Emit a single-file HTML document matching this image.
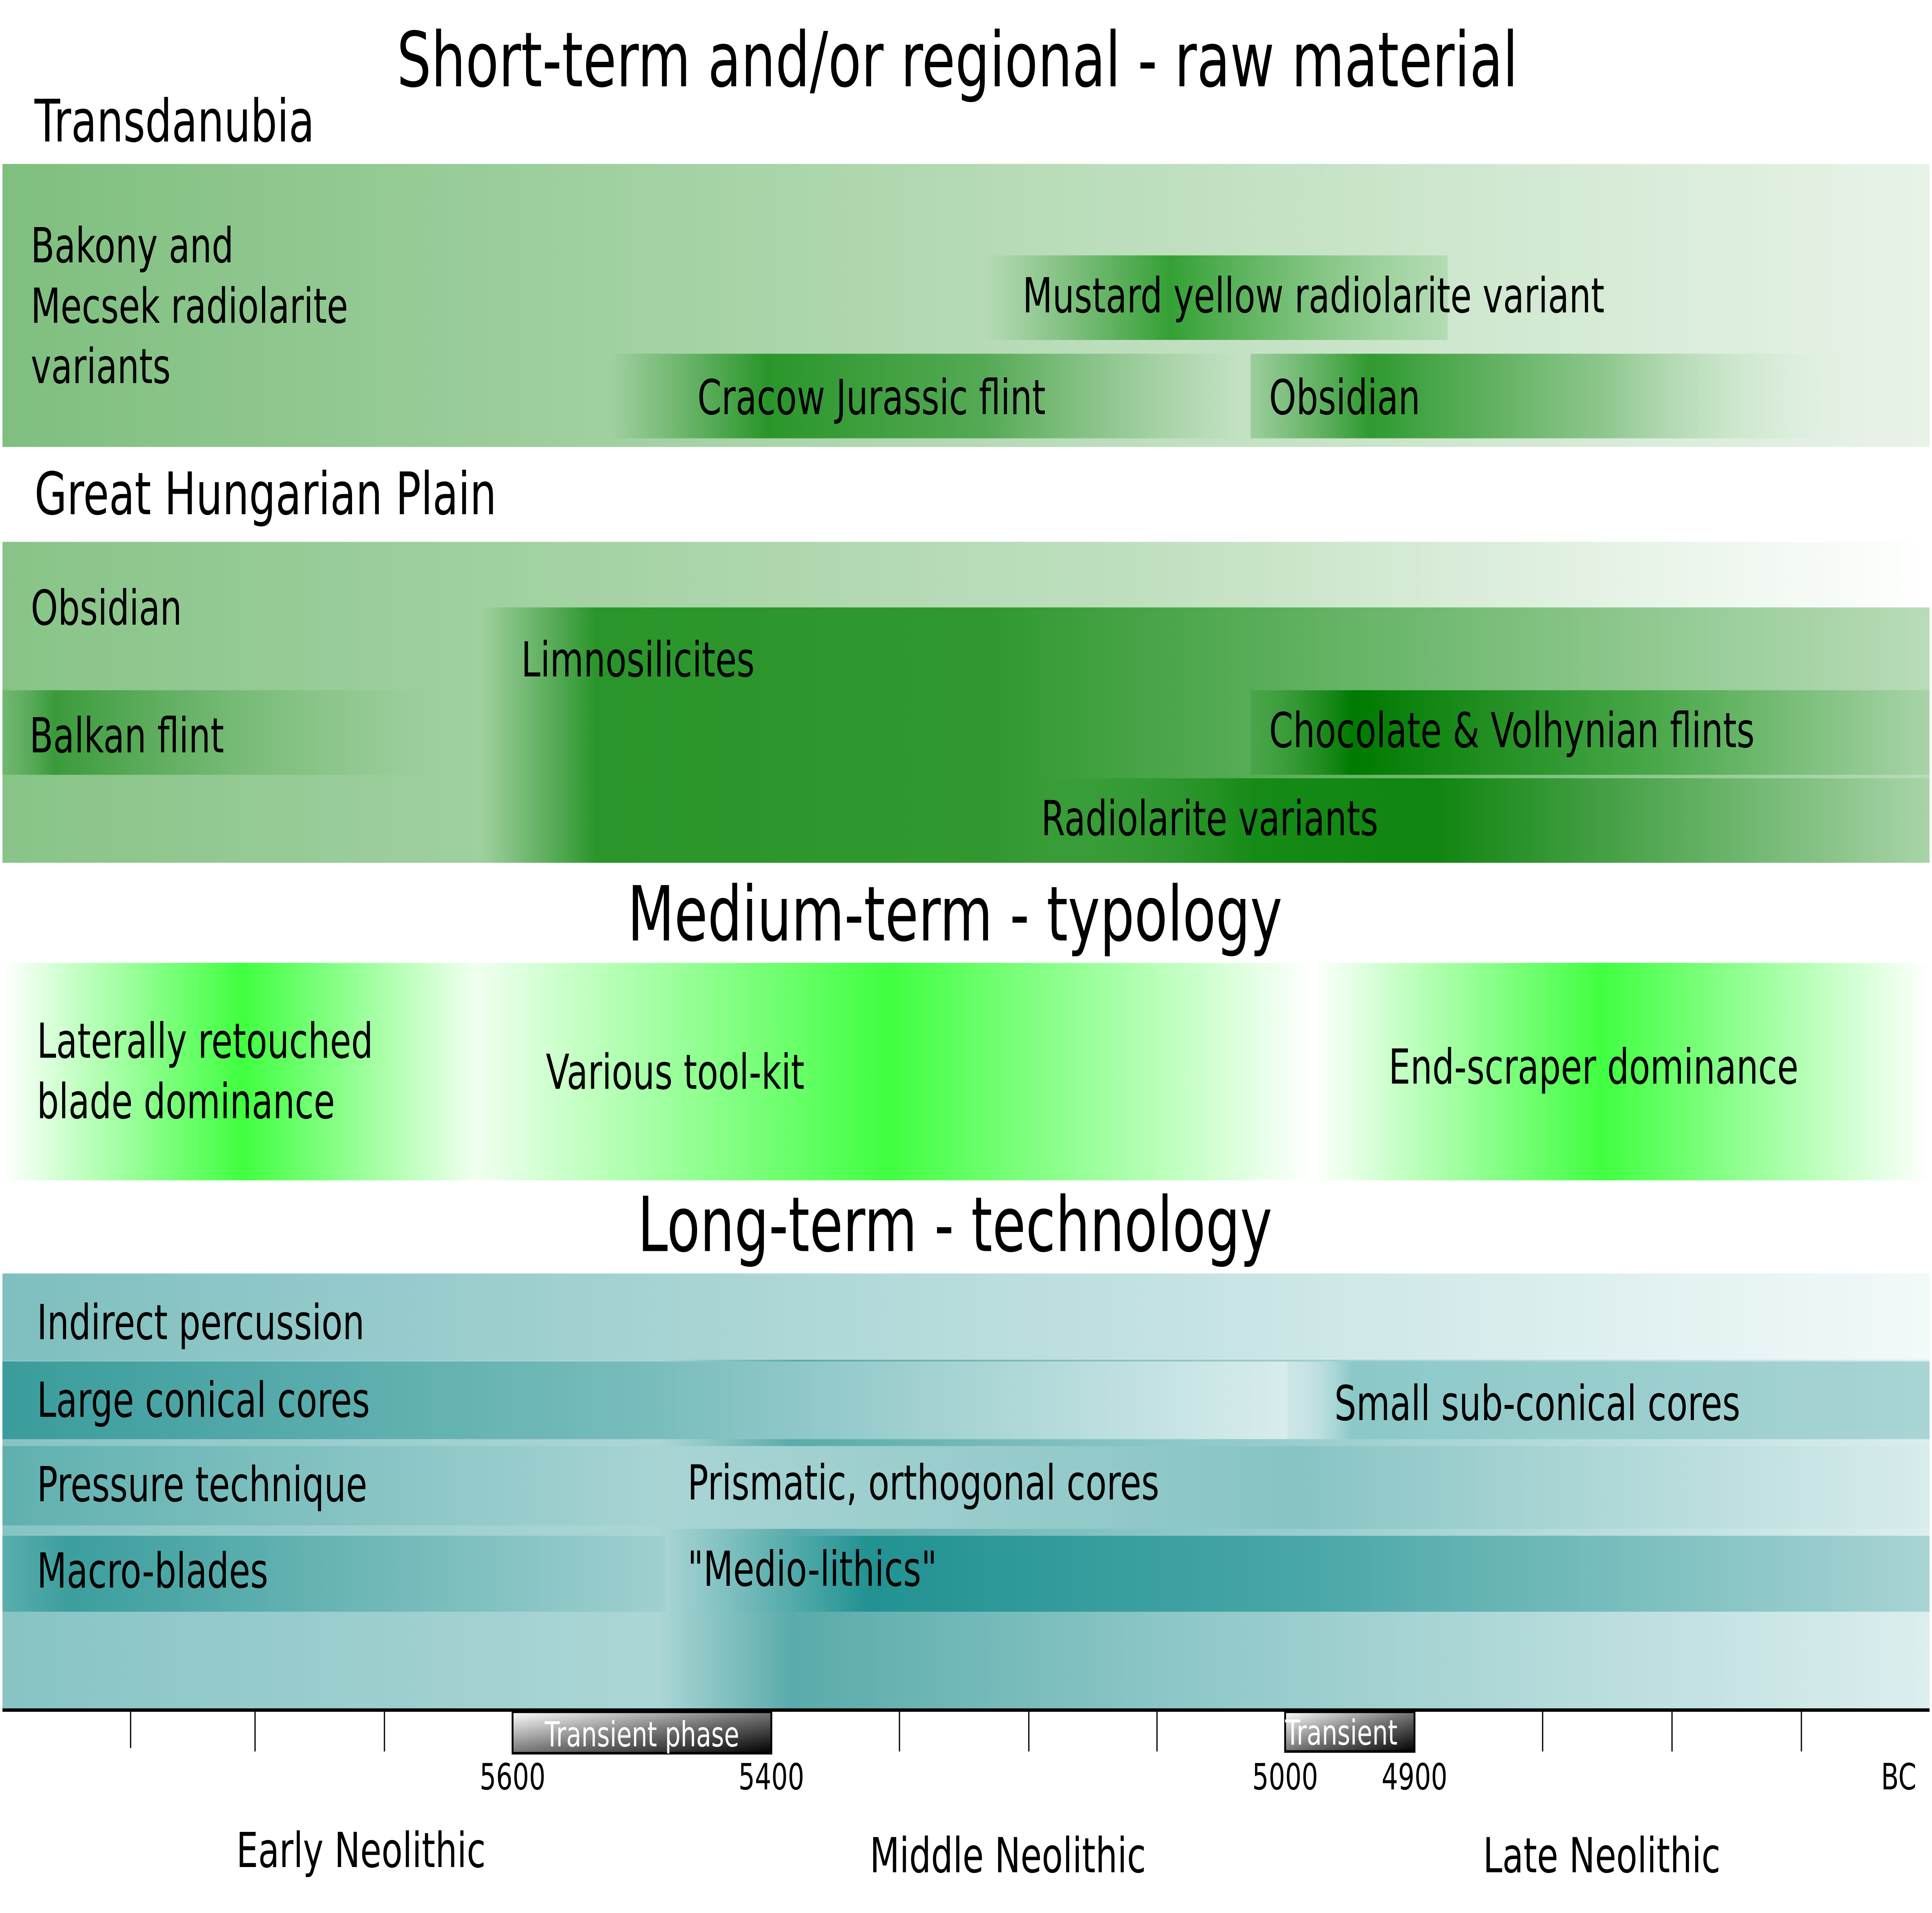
<!DOCTYPE html>
<html><head><meta charset="utf-8"><style>html,body{margin:0;padding:0;background:#fff;overflow:hidden}svg{display:block;position:absolute;left:0;top:0;width:100vw;height:100vh}text{font-family:"DejaVu Sans","Liberation Sans",sans-serif;fill:#000}</style></head>
<body>
<svg viewBox="0 0 1568 1108.6" preserveAspectRatio="none" xmlns="http://www.w3.org/2000/svg">
<defs>
<linearGradient id="b1" x1="0" x2="1"><stop offset="0" stop-color="#7fbf7f"/><stop offset="0.5" stop-color="#b4dab4"/><stop offset="1" stop-color="#e8f3e8"/></linearGradient>
<linearGradient id="must" x1="0" x2="1"><stop offset="0" stop-color="#3a9a3a" stop-opacity="0"/><stop offset="0.4" stop-color="#34a034"/><stop offset="1" stop-color="#8ccb8c" stop-opacity="0.4"/></linearGradient>
<linearGradient id="crac" x1="0" x2="1"><stop offset="0" stop-color="#2a922a" stop-opacity="0"/><stop offset="0.25" stop-color="#2a962a"/><stop offset="0.6" stop-color="#55aa55"/><stop offset="1" stop-color="#7ab87a" stop-opacity="0"/></linearGradient>
<linearGradient id="obs" x1="0" x2="1"><stop offset="0" stop-color="#40a040" stop-opacity="0.3"/><stop offset="0.2" stop-color="#2f9a2f"/><stop offset="0.6" stop-color="#90c890"/><stop offset="1" stop-color="#e0f0e0" stop-opacity="0"/></linearGradient>
<linearGradient id="b2" x1="0" x2="1"><stop offset="0" stop-color="#88c488"/><stop offset="0.6" stop-color="#c0e0c0"/><stop offset="1" stop-color="#ffffff"/></linearGradient>
<linearGradient id="limno" x1="0" x2="1"><stop offset="0" stop-color="#2a952a" stop-opacity="0"/><stop offset="0.08" stop-color="#2a952a"/><stop offset="0.35" stop-color="#30982f"/><stop offset="0.6" stop-color="#66b466"/><stop offset="1" stop-color="#b8dcb8"/></linearGradient>
<linearGradient id="balk" x1="0" x2="1"><stop offset="0" stop-color="#5aab5a" stop-opacity="0.5"/><stop offset="0.12" stop-color="#3a9a3a"/><stop offset="1" stop-color="#7fbf7f" stop-opacity="0"/></linearGradient>
<linearGradient id="choc" x1="0" x2="1"><stop offset="0" stop-color="#2a952a" stop-opacity="0.3"/><stop offset="0.15" stop-color="#007a00"/><stop offset="0.6" stop-color="#4aa84a"/><stop offset="1" stop-color="#a8d4a8"/></linearGradient>
<linearGradient id="radi" x1="0" x2="1"><stop offset="0" stop-color="#2a952a" stop-opacity="0"/><stop offset="0.25" stop-color="#168a16"/><stop offset="0.45" stop-color="#108510"/><stop offset="1" stop-color="#a8d4a8"/></linearGradient>
<linearGradient id="b3" gradientUnits="userSpaceOnUse" x1="2" x2="1566"><stop offset="0" stop-color="#fff"/><stop offset="0.125" stop-color="#40ff40"/><stop offset="0.245" stop-color="#f0fff0"/><stop offset="0.46" stop-color="#40ff40"/><stop offset="0.68" stop-color="#ffffff"/><stop offset="0.83" stop-color="#40ff40"/><stop offset="1" stop-color="#fff"/></linearGradient>
<linearGradient id="b4" gradientUnits="userSpaceOnUse" x1="2" x2="1566"><stop offset="0" stop-color="#88c4c4"/><stop offset="0.34" stop-color="#acd6d6"/><stop offset="0.41" stop-color="#5aabab"/><stop offset="0.6" stop-color="#8cc6c6"/><stop offset="1" stop-color="#dceeee"/></linearGradient>
<linearGradient id="ind" x1="0" x2="1"><stop offset="0" stop-color="#7fbfbf"/><stop offset="0.5" stop-color="#b8dcdc"/><stop offset="1" stop-color="#f2f9f9"/></linearGradient>
<linearGradient id="lcc" x1="0" x2="1"><stop offset="0" stop-color="#3a9c9c"/><stop offset="0.5" stop-color="#78bcbc"/><stop offset="1" stop-color="#d8ecec"/></linearGradient>
<linearGradient id="scc" x1="0" x2="1"><stop offset="0" stop-color="#fff" stop-opacity="0.5"/><stop offset="0.1" stop-color="#8cc8c8"/><stop offset="1" stop-color="#a8d4d4"/></linearGradient>
<linearGradient id="pt" x1="0" x2="1"><stop offset="0" stop-color="#60b0b0"/><stop offset="1" stop-color="#a8d4d4"/></linearGradient>
<linearGradient id="pri" x1="0" x2="1"><stop offset="0" stop-color="#a8d4d4"/><stop offset="0.5" stop-color="#88c4c4"/><stop offset="1" stop-color="#d8ecec"/></linearGradient>
<linearGradient id="mb" x1="0" x2="1"><stop offset="0" stop-color="#5aaeae"/><stop offset="0.1" stop-color="#3c9e9e"/><stop offset="1" stop-color="#a0d0d0"/></linearGradient>
<linearGradient id="med" x1="0" x2="1"><stop offset="0" stop-color="#a8d4d4"/><stop offset="0.16" stop-color="#229292"/><stop offset="0.5" stop-color="#48a6a6"/><stop offset="1" stop-color="#a8d4d4"/></linearGradient>
<linearGradient id="tr" x1="0" y1="0" x2="1" y2="1"><stop offset="0" stop-color="#fff"/><stop offset="0.5" stop-color="#777"/><stop offset="1" stop-color="#000"/></linearGradient>
</defs>
<rect width="1568" height="1108.6" fill="#fff"/>
<text x="777" y="50" font-size="44" text-anchor="middle">Short-term and/or regional - raw material</text>
<text x="28" y="82" font-size="34">Transdanubia</text>
<rect x="2" y="95" width="1564" height="164" fill="url(#b1)"/>
<rect x="800" y="148" width="375" height="49" fill="url(#must)"/>
<rect x="495" y="205" width="510" height="49" fill="url(#crac)"/>
<rect x="1015" y="205" width="485" height="49" fill="url(#obs)"/>
<g font-size="28">
<text x="25" y="152">Bakony and</text><text x="25" y="187">Mecsek radiolarite</text><text x="25" y="222">variants</text>
<text x="830" y="181">Mustard yellow radiolarite variant</text>
<text x="566" y="240">Cracow Jurassic flint</text><text x="1030" y="240">Obsidian</text>
</g>
<text x="28" y="298" font-size="34">Great Hungarian Plain</text>
<rect x="2" y="314" width="1564" height="186" fill="url(#b2)"/>
<rect x="390" y="352" width="1176" height="148" fill="url(#limno)"/>
<rect x="2" y="400" width="350" height="49" fill="url(#balk)"/>
<rect x="1015" y="400" width="551" height="49" fill="url(#choc)"/>
<rect x="835" y="451" width="731" height="49" fill="url(#radi)"/>
<g font-size="28">
<text x="25" y="362">Obsidian</text><text x="423" y="392">Limnosilicites</text>
<text x="24" y="436">Balkan flint</text><text x="1030" y="433">Chocolate &amp; Volhynian flints</text>
<text x="845" y="484">Radiolarite variants</text>
</g>
<text x="775" y="545" font-size="44" text-anchor="middle">Medium-term - typology</text>
<rect x="2" y="558" width="1564" height="126" fill="url(#b3)"/>
<g font-size="28">
<text x="30" y="613">Laterally retouched</text><text x="30" y="648">blade dominance</text>
<text x="443" y="631">Various tool-kit</text><text x="1127" y="628">End-scraper dominance</text>
</g>
<text x="775" y="725" font-size="44" text-anchor="middle">Long-term - technology</text>
<rect x="2" y="738" width="1564" height="252" fill="url(#b4)"/>
<rect x="2" y="738" width="1564" height="50" fill="url(#ind)"/>
<rect x="2" y="789" width="1043" height="45" fill="url(#lcc)"/>
<rect x="1045" y="789" width="521" height="45" fill="url(#scc)"/>
<rect x="2" y="838" width="538" height="46" fill="url(#pt)"/>
<rect x="540" y="838" width="1026" height="48" fill="url(#pri)"/>
<rect x="2" y="890" width="538" height="44" fill="url(#mb)"/>
<rect x="540" y="890" width="1026" height="44" fill="url(#med)"/>
<g font-size="28">
<text x="30" y="776">Indirect percussion</text>
<text x="30" y="821">Large conical cores</text><text x="1083" y="823">Small sub-conical cores</text>
<text x="30" y="870">Pressure technique</text><text x="558" y="869">Prismatic, orthogonal cores</text>
<text x="30" y="920">Macro-blades</text><text x="558" y="919">"Medio-lithics"</text>
</g>
<line x1="2" y1="991" x2="1566" y2="991" stroke="#000" stroke-width="2"/>
<g stroke="#000" stroke-width="1">
<line x1="106" y1="991" x2="106" y2="1013"/><line x1="207" y1="991" x2="207" y2="1015"/><line x1="312" y1="991" x2="312" y2="1015"/>
<line x1="730" y1="991" x2="730" y2="1015"/><line x1="835" y1="991" x2="835" y2="1015"/><line x1="939" y1="991" x2="939" y2="1015"/>
<line x1="1252" y1="991" x2="1252" y2="1015"/><line x1="1357" y1="991" x2="1357" y2="1015"/><line x1="1462" y1="991" x2="1462" y2="1015"/>
</g>
<rect x="416" y="992" width="210" height="24" fill="url(#tr)" stroke="#000" stroke-width="1.5"/>
<text x="521" y="1012" font-size="20" text-anchor="middle" style="fill:#fff">Transient phase</text>
<rect x="1043" y="992" width="105" height="23" fill="url(#tr)" stroke="#000" stroke-width="1.5"/>
<text x="1043" y="1011" font-size="20" style="fill:#fff">Transient</text>
<g font-size="21" text-anchor="middle">
<text x="416" y="1037">5600</text><text x="626" y="1037">5400</text><text x="1043" y="1037">5000</text><text x="1148" y="1037">4900</text><text x="1541" y="1037">BC</text>
</g>
<g font-size="28" text-anchor="middle">
<text x="293" y="1082">Early Neolithic</text><text x="818" y="1085">Middle Neolithic</text><text x="1300" y="1085">Late Neolithic</text>
</g>
</svg>
</body></html>
